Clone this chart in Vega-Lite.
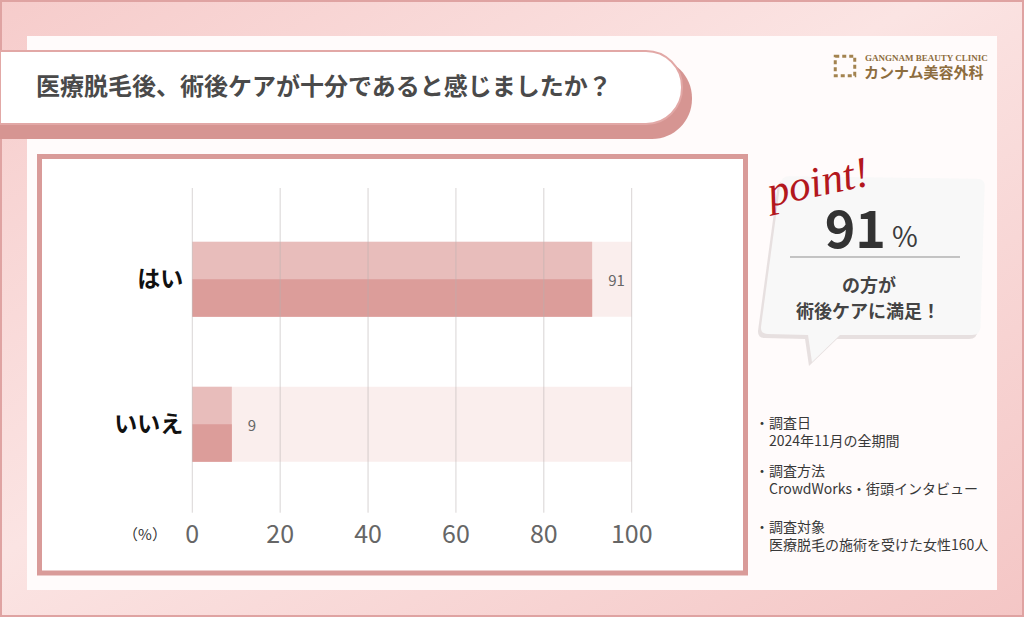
{
  "$schema": "https://vega.github.io/schema/vega-lite/v6.json",
  "width": 1024,
  "height": 617,
  "padding": 0,
  "autosize": {"type": "none"},
  "config": {
    "background": "#f7d5d4",
    "view": {"stroke": null},
    "axis": {"disable": true},
    "text": {"font": "Noto Sans CJK JP"}
  },
  "layer": [
    {
      "data": {"values": [{}]},
      "layer": [
        {
          "mark": {"type": "rect", "fill": {"gradient": "linear", "x1": 0, "y1": 0, "x2": 1, "y2": 1, "stops": [{"offset": 0, "color": "#f6cccb"}, {"offset": 0.45, "color": "#fbe4e3"}, {"offset": 1, "color": "#f4c6c5"}]}, "stroke": "#dfa3a2", "strokeWidth": 4},
          "encoding": {
            "x": {"datum": 0, "type": "quantitative", "scale": {"domain": [0, 1024], "nice": false, "zero": false}, "axis": null},
            "x2": {"datum": 1024},
            "y": {"datum": 0, "type": "quantitative", "scale": {"domain": [0, 617], "reverse": true, "nice": false, "zero": false}, "axis": null},
            "y2": {"datum": 617}
          }
        },
        {
          "mark": {"type": "rect", "fill": "#fffbfb"},
          "encoding": {"x": {"datum": 27}, "x2": {"datum": 997}, "y": {"datum": 36}, "y2": {"datum": 590}}
        },
        {
          "mark": {"type": "rect", "fill": "#d69592", "cornerRadiusTopRight": 40, "cornerRadiusBottomRight": 40},
          "encoding": {"x": {"datum": 0}, "x2": {"datum": 692}, "y": {"datum": 58}, "y2": {"datum": 139}}
        },
        {
          "mark": {"type": "rect", "fill": "#ffffff", "stroke": "#e2a8a6", "strokeWidth": 2, "cornerRadiusTopRight": 36, "cornerRadiusBottomRight": 36},
          "encoding": {"x": {"datum": 0}, "x2": {"datum": 682}, "y": {"datum": 51}, "y2": {"datum": 124}}
        },
        {
          "mark": {"type": "text", "text": "医療脱毛後、術後ケアが十分であると感じましたか？", "align": "left", "baseline": "middle", "fontSize": 24, "fontWeight": "bold", "letterSpacing": 2.7, "color": "#4a4a4a"},
          "encoding": {"x": {"datum": 36}, "y": {"datum": 88}}
        },
        {
          "mark": {"type": "point", "shape": "square", "filled": false, "stroke": "#a3834f", "strokeWidth": 3, "strokeDash": [4, 3], "size": 380, "opacity": 1},
          "encoding": {"x": {"datum": 845}, "y": {"datum": 66}}
        },
        {
          "mark": {"type": "text", "text": "GANGNAM BEAUTY CLINIC", "align": "left", "baseline": "middle", "font": "Liberation Serif", "fontSize": 9, "fontWeight": "bold", "color": "#8d6d3e"},
          "encoding": {"x": {"datum": 865}, "y": {"datum": 58}}
        },
        {
          "mark": {"type": "text", "text": "カンナム美容外科", "align": "left", "baseline": "middle", "fontSize": 15, "fontWeight": "bold", "color": "#8d6d3e"},
          "encoding": {"x": {"datum": 864}, "y": {"datum": 73}}
        },
        {
          "mark": {"type": "rect", "fill": "#ffffff", "stroke": "#d99b99", "strokeWidth": 5},
          "encoding": {"x": {"datum": 39.5}, "x2": {"datum": 745.5}, "y": {"datum": 156.5}, "y2": {"datum": 573}}
        },
        {
          "mark": {"type": "text", "text": "（%）", "align": "center", "baseline": "middle", "fontSize": 15, "color": "#333333"},
          "encoding": {"x": {"datum": 145}, "y": {"datum": 535}}
        },
        {
          "mark": {"type": "point", "shape": "M -0.74,-0.821 L 0.93,-0.797 Q 1.0,-0.796 0.997,-0.73 L 0.96,0.52 Q 0.956,0.591 0.886,0.591 L -0.289,0.591 L -0.538,0.831 L -0.573,0.591 L -0.93,0.582 Q -1.0,0.582 -0.99,0.51 L -0.82,-0.75 Q -0.809,-0.822 -0.74,-0.821 Z", "size": 50625, "filled": true, "fill": "#b9b0b0", "opacity": 0.35, "strokeWidth": 0, "xOffset": -3, "yOffset": 4},
          "encoding": {"x": {"datum": 872.5}, "y": {"datum": 268.5}}
        },
        {
          "mark": {"type": "point", "shape": "M -0.74,-0.821 L 0.93,-0.797 Q 1.0,-0.796 0.997,-0.73 L 0.96,0.52 Q 0.956,0.591 0.886,0.591 L -0.289,0.591 L -0.538,0.831 L -0.573,0.591 L -0.93,0.582 Q -1.0,0.582 -0.99,0.51 L -0.82,-0.75 Q -0.809,-0.822 -0.74,-0.821 Z", "size": 50625, "filled": true, "fill": "#f8f8f8", "opacity": 1, "strokeWidth": 0},
          "encoding": {"x": {"datum": 872.5}, "y": {"datum": 268.5}}
        },
        {
          "mark": {"type": "text", "text": "point!", "align": "center", "baseline": "middle", "font": "Liberation Serif", "fontStyle": "italic", "fontSize": 43, "angle": -12, "color": "#b3171d"},
          "encoding": {"x": {"datum": 818}, "y": {"datum": 183}}
        },
        {
          "mark": {"type": "text", "text": "91", "align": "right", "baseline": "alphabetic", "fontSize": 52, "fontWeight": "bold", "letterSpacing": -2, "color": "#333333"},
          "encoding": {"x": {"datum": 886}, "y": {"datum": 248}}
        },
        {
          "mark": {"type": "text", "text": "%", "align": "left", "baseline": "alphabetic", "fontSize": 28, "color": "#3c3c3c"},
          "encoding": {"x": {"datum": 892}, "y": {"datum": 247}}
        },
        {
          "mark": {"type": "rule", "color": "#8f8f8f", "strokeWidth": 1},
          "encoding": {"x": {"datum": 790}, "x2": {"datum": 960}, "y": {"datum": 257}}
        },
        {
          "mark": {"type": "text", "text": "の方が", "align": "center", "baseline": "middle", "fontSize": 18, "fontWeight": "bold", "letterSpacing": 3, "color": "#444444"},
          "encoding": {"x": {"datum": 869}, "y": {"datum": 287}}
        },
        {
          "mark": {"type": "text", "text": "術後ケアに満足！", "align": "center", "baseline": "middle", "fontSize": 18, "fontWeight": "bold", "letterSpacing": 3.5, "color": "#444444"},
          "encoding": {"x": {"datum": 868}, "y": {"datum": 313}}
        },
        {
          "mark": {"type": "text", "text": "・調査日", "align": "left", "baseline": "middle", "fontSize": 14, "color": "#383838"},
          "encoding": {"x": {"datum": 755}, "y": {"datum": 424}}
        },
        {
          "mark": {"type": "text", "text": "2024年11月の全期間", "align": "left", "baseline": "middle", "fontSize": 14, "color": "#383838"},
          "encoding": {"x": {"datum": 769}, "y": {"datum": 442}}
        },
        {
          "mark": {"type": "text", "text": "・調査方法", "align": "left", "baseline": "middle", "fontSize": 14, "color": "#383838"},
          "encoding": {"x": {"datum": 755}, "y": {"datum": 472}}
        },
        {
          "mark": {"type": "text", "text": "CrowdWorks・街頭インタビュー", "align": "left", "baseline": "middle", "fontSize": 14, "letterSpacing": 0.8, "color": "#383838"},
          "encoding": {"x": {"datum": 769}, "y": {"datum": 490}}
        },
        {
          "mark": {"type": "text", "text": "・調査対象", "align": "left", "baseline": "middle", "fontSize": 14, "color": "#383838"},
          "encoding": {"x": {"datum": 755}, "y": {"datum": 528}}
        },
        {
          "mark": {"type": "text", "text": "医療脱毛の施術を受けた女性160人", "align": "left", "baseline": "middle", "fontSize": 14, "color": "#383838"},
          "encoding": {"x": {"datum": 769}, "y": {"datum": 546}}
        }
      ]
    },
    {
      "layer": [
        {
          "data": {"values": [{"answer": "はい", "percent": 91}, {"answer": "いいえ", "percent": 9}]},
          "encoding": {
            "y": {"field": "answer", "type": "nominal", "sort": null, "axis": null, "scale": {"domain": ["はい", "いいえ"], "range": [169.2, 534.2], "paddingInner": 0.4828, "paddingOuter": 0.5, "align": 0.5}}
          },
          "layer": [
            {
              "mark": {"type": "bar", "color": "#faeeed"},
              "encoding": {
                "x": {"datum": 0, "type": "quantitative", "scale": {"domain": [-43.76, 189.28], "nice": false, "zero": false}, "axis": null},
                "x2": {"datum": 100}
              }
            },
            {
              "mark": {"type": "bar", "color": "#e8bdbb"},
              "encoding": {"x": {"field": "percent", "type": "quantitative"}, "x2": {"datum": 0}}
            },
            {
              "mark": {"type": "bar", "color": "#dc9d9a", "height": 37.5, "yOffset": 18.75},
              "encoding": {"x": {"field": "percent", "type": "quantitative"}, "x2": {"datum": 0}}
            },
            {
              "mark": {"type": "text", "align": "left", "baseline": "middle", "dx": 16, "dy": 2, "fontSize": 15, "color": "#666666"},
              "encoding": {"x": {"field": "percent", "type": "quantitative"}, "text": {"field": "percent", "type": "quantitative"}}
            },
            {
              "mark": {"type": "text", "align": "right", "baseline": "middle", "dx": -9, "dy": 1, "fontSize": 23, "fontWeight": "bold", "color": "#111111"},
              "encoding": {"x": {"datum": 0}, "text": {"field": "answer", "type": "nominal"}}
            }
          ]
        },
        {
          "data": {"values": [{"tick": 0}, {"tick": 20}, {"tick": 40}, {"tick": 60}, {"tick": 80}, {"tick": 100}]},
          "layer": [
            {
              "mark": {"type": "rule", "color": "#b8b0b0", "opacity": 0.55, "strokeWidth": 1},
              "encoding": {
                "x": {"field": "tick", "type": "quantitative"},
                "y": {"datum": 188, "type": "quantitative", "scale": {"domain": [0, 617], "reverse": true, "nice": false, "zero": false}, "axis": null},
                "y2": {"datum": 512.7}
              }
            },
            {
              "mark": {"type": "text", "align": "center", "baseline": "middle", "fontSize": 25, "color": "#666666"},
              "encoding": {
                "x": {"field": "tick", "type": "quantitative"},
                "y": {"datum": 535},
                "text": {"field": "tick", "type": "quantitative"}
              }
            }
          ]
        }
      ],
      "resolve": {"scale": {"y": "independent"}}
    }
  ],
  "resolve": {"scale": {"x": "independent", "y": "independent"}}
}
